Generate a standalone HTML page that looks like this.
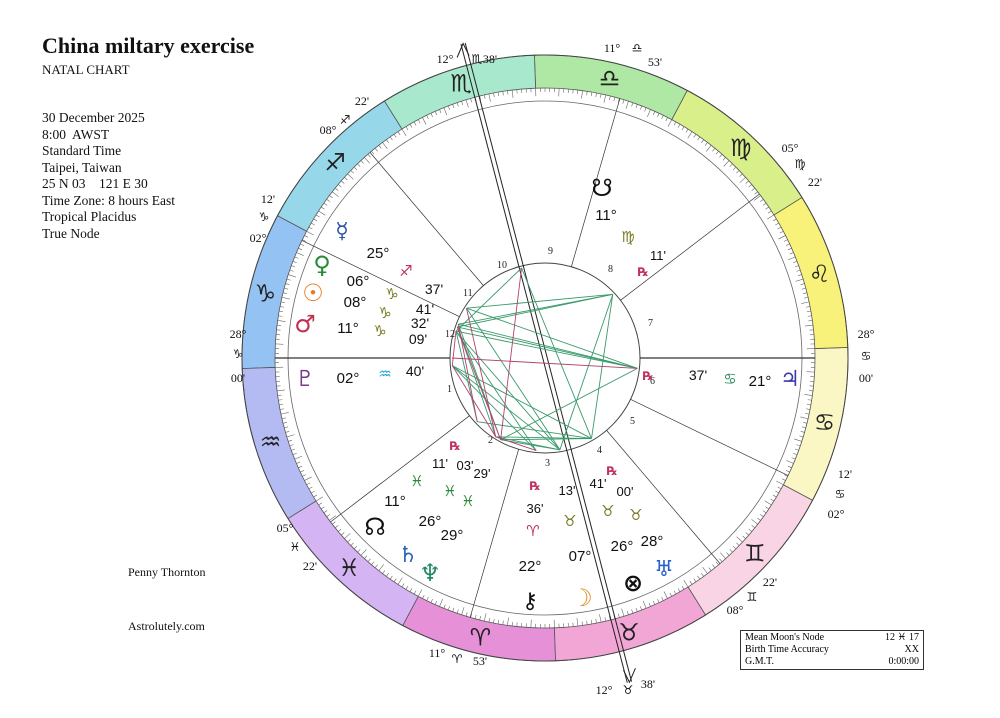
<!DOCTYPE html>
<html><head><meta charset="utf-8"><style>
body{margin:0;background:#fff;width:1000px;height:718px;overflow:hidden;position:relative;font-family:"Liberation Serif",serif}
.l{position:absolute;left:42px;font-size:14px;color:#111}
svg{position:absolute;left:0;top:0}
</style></head><body>
<div class="l" style="top:33px;font-size:22px;font-weight:bold">China miltary exercise</div>
<div class="l" style="top:62px;font-size:13px">NATAL CHART</div>
<div class="l" style="top:110px;line-height:16.5px;font-size:13.5px">30 December 2025<br>8:00&nbsp; AWST<br>Standard Time<br>Taipei, Taiwan<br>25 N 03&nbsp;&nbsp;&nbsp; 121 E 30<br>Time Zone: 8 hours East<br>Tropical Placidus<br>True Node</div>
<div class="l" style="left:128px;top:565px;font-size:12px">Penny Thornton</div>
<div class="l" style="left:128px;top:619px;font-size:12px">Astrolutely.com</div>
<div style="position:absolute;left:740px;top:630px;width:184px;height:40px;border:1px solid #333;font-size:10px;line-height:12px;padding:1px 4px;box-sizing:border-box">
<div>Mean Moon's Node<span style="float:right">12 <span style="font-family:'DejaVu Sans'">♓&#xFE0E;</span> 17</span></div>
<div>Birth Time Accuracy<span style="float:right">XX</span></div>
<div>G.M.T.<span style="float:right">0:00:00</span></div></div>
<svg id="s" width="1000" height="718" xmlns="http://www.w3.org/2000/svg"></svg>
<script>
(function(){
const cx=545,cy=358,ASC=298;
const s=document.getElementById('s');let h='';
const V='\uFE0E';
function P(L,r){const a=(180+L-ASC)*Math.PI/180;return [cx+r*Math.cos(a),cy-r*Math.sin(a)];}
const cols=['#e690d8','#f2a6d6','#f9d4e4','#fbf7c4','#f8f27a','#d9f08a','#aee8a4','#a8e8cc','#96d8ea','#94c2f2','#b4baf2','#d4b4f2'];
const gl=['♈','♉','♊','♋','♌','♍','♎','♏','♐','♑','♒','♓'];
for(let i=0;i<12;i++){const L0=i*30,L1=L0+30;const a=P(L0,303),b=P(L1,303),c=P(L1,270),d=P(L0,270);
h+=`<path d="M${a[0]},${a[1]} A303 303 0 0 0 ${b[0]},${b[1]} L${c[0]},${c[1]} A270 270 0 0 1 ${d[0]},${d[1]}Z" fill="${cols[i]}" stroke="#555" stroke-width="0.8"/>`;
const m=P(L0+15,287);h+=`<text x="${m[0]}" y="${m[1]+8}" font-size="24" font-weight="bold" text-anchor="middle" fill="#222" font-family="DejaVu Sans">${gl[i]+V}</text>`;}
h+=`<circle cx="${cx}" cy="${cy}" r="303" fill="none" stroke="#444"/><circle cx="${cx}" cy="${cy}" r="257" fill="none" stroke="#666" stroke-width="0.8"/><circle cx="${cx}" cy="${cy}" r="95" fill="#fff" stroke="#444"/>`;
for(let L=0;L<360;L+=1){const a=P(L,270),b=P(L,L%5?266:262);h+=`<line x1="${a[0]}" y1="${a[1]}" x2="${b[0]}" y2="${b[1]}" stroke="#666" stroke-width="0.6"/>`;}
const cus=[298,335.4,11.9,42.6,68.4,92.2,118,155.4,191.9,222.6,248.4,272.2];
cus.forEach((L,i)=>{if(i==3||i==9)return;const a=P(L,95),b=P(L,270);h+=`<line x1="${a[0]}" y1="${a[1]}" x2="${b[0]}" y2="${b[1]}" stroke="#333" stroke-width="${i==0||i==6?1.2:0.7}"/>`;});
const tp=P(222.6,325),bt=P(42.6,335);const dx=(bt[0]-tp[0]),dy=(bt[1]-tp[1]);const ln=Math.hypot(dx,dy);const ox=-dy/ln*2.2,oy=dx/ln*2.2;
[1,-1].forEach(k=>{h+=`<line x1="${tp[0]+k*ox}" y1="${tp[1]+k*oy}" x2="${bt[0]+k*ox}" y2="${bt[1]+k*oy}" stroke="#222" stroke-width="1"/>`});
h+=`<path d="M${tp[0]-6},${tp[1]+14} L${tp[0]},${tp[1]} L${tp[0]+6},${tp[1]+12}" fill="none" stroke="#222"/><path d="M${bt[0]-6},${bt[1]-12} L${bt[0]},${bt[1]} L${bt[0]+6},${bt[1]-14}" fill="none" stroke="#222"/>`;
[[447,392,1],[488,443,2],[545,466,3],[597,453,4],[630,424,5],[650,384,6],[648,326,7],[608,272,8],[548,254,9],[497,268,10],[463,296,11],[445,337,12]].forEach(t=>h+=`<text x="${t[0]}" y="${t[1]}" font-size="10" font-family="Liberation Serif" fill="#222">${t[2]}</text>`);
const pts={me:265.6,ve:276.7,su:278.5,ma:281.2,pl:302.7,ju:111.6,sn:161.2,nn:341.2,sa:356,ne:359.5,ch:22.6,mo:37.2,ur:58,pf:56.7,mc:222.6,asc:298};
const gr=[['me','ju'],['ve','ju'],['su','ju'],['ma','ju'],['ve','sn'],['su','sn'],['ma','mo'],['pl','ur'],['pl','ch'],['sa','mo'],['ne','ur'],['ne','mo'],['nn','ur'],['sa','ur'],['me','mo'],['ve','ne'],['su','sa'],['ma','nn'],['sn','mo'],['sn','ur'],['ju','ne'],['mc','ur'],['mc','ma'],['me','sn'],['pl','mo'],['ch','ma']];
const rd=[['me','sa'],['ma','pl'],['su','ne'],['ve','nn'],['ju','asc'],['mc','ne'],['sa','ch'],['pl','sa']];
gr.forEach(([a,b])=>{const p=P(pts[a],93),q=P(pts[b],93);h+=`<line x1="${p[0]}" y1="${p[1]}" x2="${q[0]}" y2="${q[1]}" stroke="#3a9a6a" stroke-width="0.9"/>`});
rd.forEach(([a,b])=>{const p=P(pts[a],93),q=P(pts[b],93);h+=`<line x1="${p[0]}" y1="${p[1]}" x2="${q[0]}" y2="${q[1]}" stroke="#b04070" stroke-width="0.9"/>`});
const T=(x,y,t,c,sz,f,w)=>{h+=`<text x="${x}" y="${y}" font-size="${sz||15}" fill="${c||'#111'}" text-anchor="middle" font-weight="${w||'normal'}" font-family="${f||'Liberation Sans'}">${t}</text>`;};
const D='DejaVu Sans';
const G=(x,y,t,c,sz)=>T(x,y,t+V,c,sz,D,'bold');
G(342,238,'☿','#2a52a8',22);T(378,258,'25°');G(406,276,'♐','#c03060',15);T(434,294,'37\'','#111',14);
G(322,273,'♀','#2a8a3a',24);T(358,286,'06°');G(392,299,'♑','#777a20',15);T(425,314,'41\'','#111',14);
G(313,301,'☉','#e07a20',24);T(355,307,'08°');G(385,318,'♑','#777a20',15);T(420,328,'32\'','#111',14);
G(305,332,'♂','#c03050',24);T(348,333,'11°');G(380,336,'♑','#777a20',15);T(418,344,'09\'','#111',14);
G(305,386,'♇','#7a3a8a',22);T(348,383,'02°');G(385,379,'♒','#20a0d8',15);T(415,376,'40\'','#111',14);
G(648,380,'℞','#c03060',12);T(698,380,'37\'','#111',14);G(730,384,'♋','#2a8a5a',15);T(760,386,'21°');G(790,386,'♃','#3a3ab0',22);
G(602,196,'☋','#111',24);T(606,220,'11°');G(628,242,'♍','#777a20',15);T(658,260,'11\'','#111',13);G(643,276,'℞','#c03060',12);
G(375,535,'☊','#111',24);T(395,506,'11°');T(430,526,'26°');T(452,540,'29°');G(408,562,'♄','#2a60b8',22);G(430,581,'♆','#20886a',24);
G(417,486,'♓','#2a8a3a',15);G(450,496,'♓','#2a8a3a',15);G(468,506,'♓','#2a8a3a',15);
G(455,450,'℞','#c03060',12);T(440,468,'11\'','#111',13);T(465,470,'03\'','#111',13);T(482,478,'29\'','#111',13);
G(535,490,'℞','#c03060',12);T(535,513,'36\'','#111',13);G(533,536,'♈','#c03060',15);T(530,571,'22°');G(530,608,'⚷','#111',22);
T(567,495,'13\'','#111',13);G(570,526,'♉','#777a20',15);T(580,561,'07°');G(582,606,'☽','#e08a20',24);
G(612,475,'℞','#c03060',12);T(598,488,'41\'','#111',13);T(625,496,'00\'','#111',13);G(608,516,'♉','#777a20',15);G(636,520,'♉','#777a20',15);
T(622,551,'26°');T(652,546,'28°');G(664,576,'♅','#2a60c8',22);G(633,591,'⊗','#111',24);
const S=(x,y,t)=>T(x,y,t,'#111',12,'Liberation Serif');
const Z=(x,y,t)=>T(x,y,t+V,'#111',12,D);
S(445,63,'12°');Z(477,63,'♏');S(490,63,'38\'');S(612,52,'11°');Z(637,52,'♎');S(655,66,'53\'');
S(790,152,'05°');Z(800,168,'♍');S(815,186,'22\'');S(866,338,'28°');Z(866,360,'♋');S(866,382,'00\'');
S(845,478,'12\'');Z(840,498,'♋');S(836,518,'02°');S(770,586,'22\'');Z(752,601,'♊');S(735,614,'08°');
S(604,694,'12°');Z(628,694,'♉');S(648,688,'38\'');S(437,657,'11°');Z(457,663,'♈');S(480,665,'53\'');
S(285,532,'05°');Z(295,551,'♓');S(310,570,'22\'');S(238,338,'28°');Z(238,358,'♑');S(238,382,'00\'');
S(268,203,'12\'');Z(264,221,'♑');S(258,242,'02°');S(362,105,'22\'');Z(345,124,'♐');S(328,134,'08°');
s.innerHTML=h;
})();
</script>
</body></html>
